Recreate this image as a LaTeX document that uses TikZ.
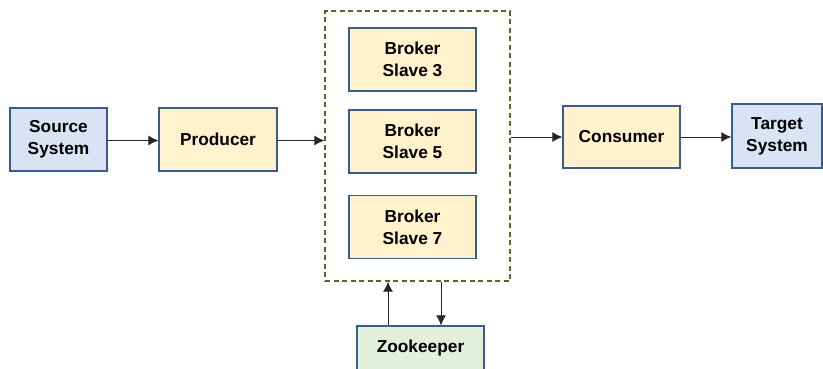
\documentclass[tikz,border=0pt]{standalone}
\usepackage{fontspec}
\setmainfont{Liberation Sans}
\usetikzlibrary{arrows.meta}
\definecolor{bordc}{HTML}{385D8A}
\definecolor{bluef}{HTML}{DAE3F3}
\definecolor{yelf}{HTML}{FFF2CC}
\definecolor{grnf}{HTML}{E2EFDA}
\definecolor{dashc}{HTML}{4D6B2E}
\tikzset{
  x=1pt,y=1pt,
  box/.style={draw=bordc,line width=1.3pt,align=center,inner sep=0pt,
    font=\fontsize{17.3}{22}\selectfont\bfseries,text=black},
  bluebox/.style={box,fill=bluef},
  yelbox/.style={box,fill=yelf},
  grnbox/.style={box,fill=grnf},
  cluster/.style={draw=dashc,line width=1.3pt,dash pattern=on 5pt off 3.5pt,inner sep=0pt},
  arr/.style={draw=black!85,line width=0.9pt,-{Latex[length=10pt,width=10pt]}}
}
\begin{document}
\begin{tikzpicture}
\useasboundingbox (0,0) rectangle (823,-368);
\clip (0,0) rectangle (823,-368);
\node[bluebox,minimum width=97pt,minimum height=63pt] (src) at (58.5,-139.5) {Source\\System};
\node[yelbox,minimum width=118pt,minimum height=63pt] (prod) at (218,-139.5) {Producer};
\node[cluster,minimum width=185pt,minimum height=270pt] (clu) at (417.5,-146) {};
\node[yelbox,minimum width=127pt,minimum height=63pt] (b3) at (412.5,-59.5) {Broker\\Slave 3};
\node[yelbox,minimum width=127pt,minimum height=63pt] (b5) at (412.5,-141.5) {Broker\\Slave 5};
\node[yelbox,minimum width=127pt,minimum height=63pt] (b7) at (412.5,-227) {Broker\\Slave 7};
\node[yelbox,minimum width=117pt,minimum height=62pt] (cons) at (621.5,-137) {Consumer};
\node[bluebox,minimum width=90pt,minimum height=64pt] (tgt) at (777,-136) {Target\\System};
\node[grnbox,minimum width=127pt,minimum height=44pt] (zk) at (420.5,-348) {Zookeeper};
\draw[arr] (src.east |- 0,-140.5) -- (prod.west |- 0,-140.5);
\draw[arr] (prod.east |- 0,-140.5) -- (clu.west |- 0,-140.5);
\draw[arr] (clu.east |- cons) -- (cons);
\draw[arr] (cons) -- (tgt.west |- cons);
\draw[arr] ([xshift=-32.5pt]zk.north) -- ([xshift=-32.5pt]zk.north |- clu.south);
\draw[arr] ([xshift=20.5pt]zk.north |- clu.south) -- ([xshift=20.5pt]zk.north);
\end{tikzpicture}
\end{document}
